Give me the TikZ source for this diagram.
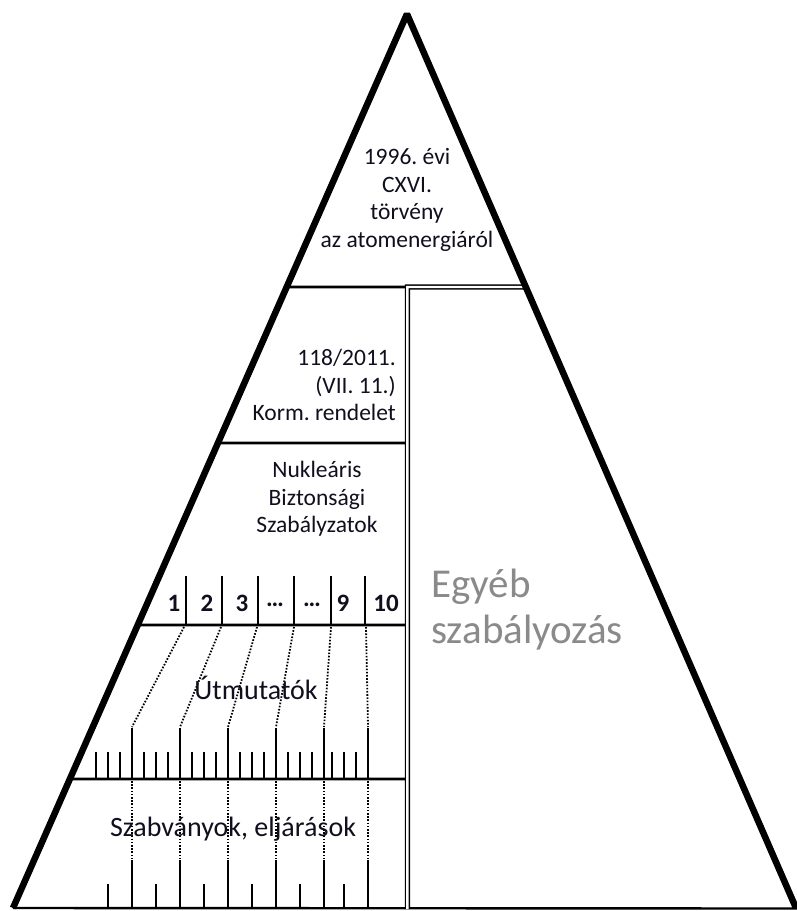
\documentclass[tikz,border=0pt]{standalone}
\usepackage{fontspec}
\setmainfont{Carlito}
\frenchspacing
\definecolor{egyebgray}{RGB}{138,138,138}
\definecolor{txt}{RGB}{15,15,30}
\begin{document}
\begin{tikzpicture}[x=1pt,y=-1pt,
  side/.style={line width=6.5pt, line join=bevel},
  rule/.style={line width=2.8pt},
  tick/.style={line width=2.8pt},
  dots/.style={line width=1.8pt, dash pattern=on 1.6pt off 1.6pt},
  lbl/.style={font=\fontsize{23.5}{27.5}\selectfont, align=center, inner sep=0pt, text=txt},
  biglbl/.style={font=\fontsize{28}{32}\selectfont, align=center, inner sep=0pt, text=txt},
  num/.style={font=\fontsize{25}{27}\selectfont\bfseries, inner sep=0pt, text=txt},
]
\useasboundingbox (0,0) rectangle (797,911);
\coordinate (T) at (407,14);
\coordinate (L) at (13,908);
\coordinate (R) at (796,908);
% helper coordinates for horizontal levels
\foreach \y/\n in {287/a,443/b,625/c,779/d}{
  \coordinate (h\n0) at (0,\y);
  \coordinate (h\n1) at (10,\y);
}
% bottom line
\draw[line width=2.4pt] (L) -- (797,908.5);
% left column horizontal rules
\draw[rule] (intersection of L--T and ha0--ha1) -- (405,287);
\draw[rule] (intersection of L--T and hb0--hb1) -- (405,443);
\draw[rule] (intersection of L--T and hc0--hc1) -- (405,625);
\draw[rule] (intersection of L--T and hd0--hd1) -- (405,779);
% double separator
\draw[line width=1.4pt, double, double distance=2.4pt]
  (intersection of T--R and ha0--ha1) -- (407.4,287) -- (407.4,909);
% triangle sides
\draw[side] (L) -- (T) -- (R);
% numbered cells
\foreach \x in {186,222,258,294,331,365}
  \draw[tick] (\x,576) -- (\x,625);
\node[num] (n1) at (174,603) {1};
\node[num] (n2) at (207,603) {2};
\node[num] (n3) at (242,603) {3};
\node[num] (n4) at (275,605) {…};
\node[num] (n5) at (312,605) {…};
\node[num] (n9) at (343,603) {9};
\node[num] (n10) at (386,603) {10};
% dotted connectors to guideline ticks
\foreach \a/\b in {184/132,221/180,257/228,294/276,331/324,366/368}
  \draw[dots] (\a,627) -- (\b,727);
% Utmutatok ticks
\foreach \x in {132,180,228,276,324,368}
  \draw[tick] (\x,728) -- (\x,779);
\foreach \x in {96,108,120,144,156,168,192,204,216,240,252,264,288,300,312,332,344,356}
  \draw[tick] (\x,752) -- (\x,778);
% bottom dotted and ticks
\foreach \x in {132,180,228,276,324,368}{
  \draw[dots] (\x,781) -- (\x,858);
  \draw[tick] (\x,860) -- (\x,908);
}
\foreach \x in {108,156,204,252,300,344}
  \draw[tick] (\x,884) -- (\x,908);
% texts
\node[lbl] (law) at (407,200) {1996. évi\\CXVI.\\törvény\\az atomenergiáról};
\node[lbl, align=right, anchor=east] (gov) at (396,385) {118/2011.\\(VII. 11.)\\Korm. rendelet};
\node[lbl] (nbsz) at (317,499) {Nukleáris\\Biztonsági\\Szabályzatok};
\node[biglbl] (ut) at (256,688) {Útmutatók};
\node[biglbl] (szab) at (233,829) {Szabványok, eljárások};
\node[font=\fontsize{41}{46}\selectfont, text=egyebgray, align=left, anchor=west, inner sep=0pt] (egyeb) at (431,610) {Egyéb\\szabályozás};
\end{tikzpicture}
\end{document}
